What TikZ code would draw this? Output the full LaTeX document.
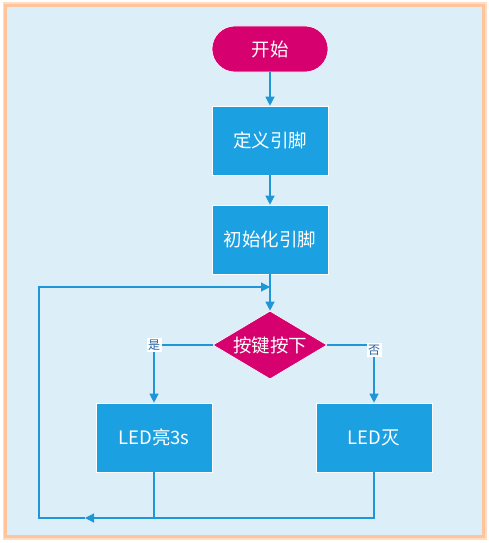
\documentclass[tikz,border=0pt]{standalone}
\usepackage{fontspec}
\setmainfont{Noto Sans CJK SC}
\usetikzlibrary{arrows.meta,shapes.geometric,positioning}

\definecolor{bgblue}{RGB}{220,239,249}
\definecolor{frameorange}{RGB}{255,196,156}
\definecolor{boxblue}{RGB}{27,161,226}
\definecolor{linkblue}{RGB}{30,150,215}
\definecolor{keyred}{RGB}{214,0,110}
\definecolor{labelblue}{RGB}{40,100,160}

\begin{document}
\begin{tikzpicture}[
    x=1pt, y=-1pt,
    >={Triangle[width=9pt,length=9pt]},
    every node/.style = {text=white, font=\fontsize{18.5}{22}\selectfont},
    terminal/.style = {rectangle, rounded corners=23pt, fill=keyred, draw=white, line width=0.6pt,
                       minimum width=116pt, minimum height=46pt},
    process/.style  = {rectangle, fill=boxblue, draw=white, line width=0.6pt,
                       minimum width=116pt, minimum height=69pt},
    decision/.style = {diamond, aspect=1.68, inner sep=0pt, fill=keyred, draw=white, line width=0.6pt,
                       minimum width=114pt, minimum height=68pt},
    link/.style     = {draw=linkblue, line width=1.2pt},
    tag/.style      = {fill=white, text=labelblue, inner sep=1.5pt, font=\fontsize{12}{13}\selectfont},
  ]

	% Hintergrund und Rahmen
	\useasboundingbox (0,0) rectangle (489,543);
	\fill[white] (0,0) rectangle (489,543);
	\draw[frameorange!60, line width=6pt] (5.5,5.5) rectangle (483.5,536.5);
	\draw[frameorange, line width=3pt, fill=bgblue] (5.5,5.5) rectangle (483.5,536.5);

	% Knoten
	\node (start) at (270,49)    [terminal] {开始};
	\node (def)   at (270,140.5) [process]  {定义引脚};
	\node (init)  at (270,239.5) [process]  {初始化引脚};
	\node (key)   at (270,345)   [decision] {按键按下};
	\node (on)    at (154,437.5) [process]  {LED亮3s};
	\node (off)   at (374,437.5) [process]  {LED灭};

	% Hilfspunkte der Rueckfuehrung
	\coordinate (merge) at (154,518);
	\coordinate (ret)   at (85,518);
	\coordinate (back)  at (39,518);
	\coordinate (loop)  at (270,287);

	% Verbindungen
	\draw[link,->] (start) -- (def);
	\draw[link,->] (def) -- (init);
	\draw[link,->] (init) -- (key);
	\draw[link,->] (key.west) -| (on) node[pos=0.5, tag] {是};
	\draw[link,->] (key.east) -| (off) node[pos=0.5, tag, yshift=-5pt] {否};

	% Rueckfuehrung
	\draw[link] (on) -- (merge);
	\draw[link] (off) |- (merge);
	\draw[link,->] (merge) -- (ret);
	\draw[link,->] (ret) -- (back) |- (loop);

\end{tikzpicture}
\end{document}
